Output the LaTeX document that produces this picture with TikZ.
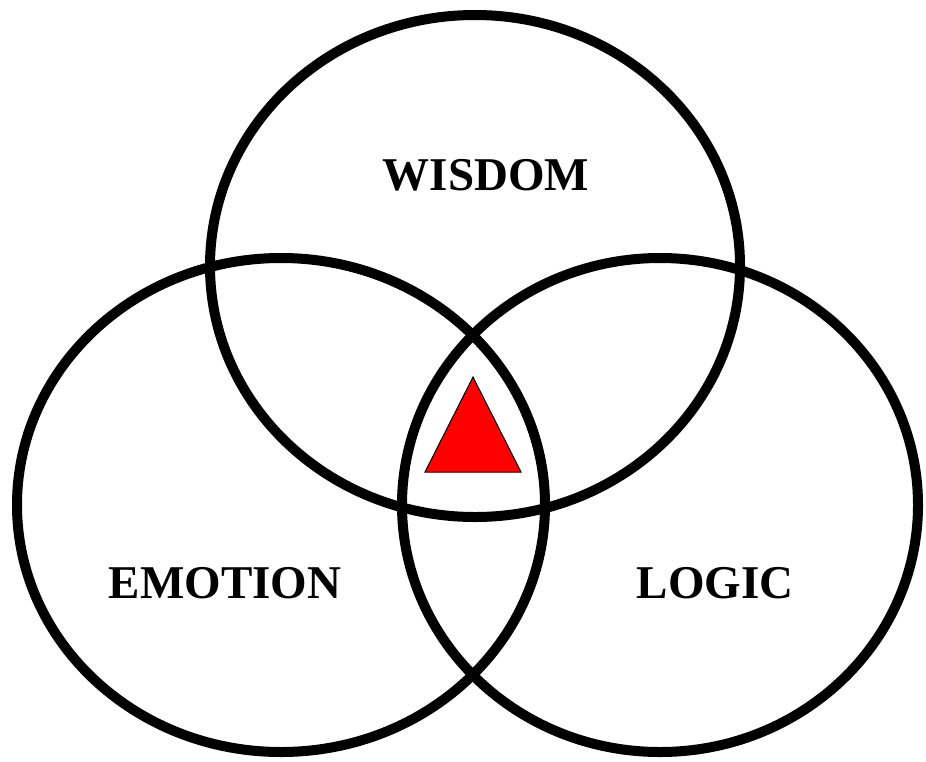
\documentclass[tikz,border=0pt]{standalone}
\usepackage{fontspec}
\setmainfont{Liberation Serif}
\usepackage{xcolor}
\definecolor{apex}{RGB}{255,0,0}
\tikzset{
  ring/.style = {draw=black, line width=10pt},
  label/.style = {font=\fontsize{47}{50}\selectfont\bfseries, inner sep=0pt}
}

\begin{document}
\begin{tikzpicture}[x=1pt, y=-1pt]
            \useasboundingbox (0,0) rectangle (926,761);
            \draw[ring] (475,266) ellipse [x radius=265, y radius=251];
            \draw[ring] (281,505) ellipse [x radius=264, y radius=247];
            \draw[ring] (660,505) ellipse [x radius=258, y radius=247];
            \draw[fill=apex, line width=1pt] (473,377) -- (425,472) -- (521,472) -- cycle;
            \node[label] (wisdom) at (486,175) {WISDOM};
            \node[label] (emotion) at (225,583) {EMOTION};
            \node[label] (logic) at (715,583) {LOGIC};
        \end{tikzpicture}
\end{document}
